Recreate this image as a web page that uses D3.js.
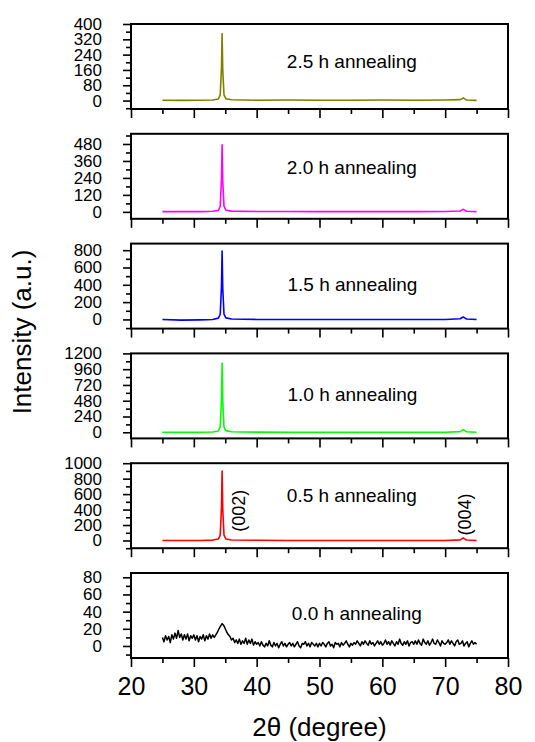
<!DOCTYPE html>
<html>
<head>
<meta charset="utf-8">
<script src="https://cdn.jsdelivr.net/npm/d3@7"></script>
<style>
  body { margin: 0; background: #fff; }
  svg { display: block; font-family: "Liberation Sans", Arial, sans-serif; }
</style>
</head>
<body>
<div id="wrapper"></div>
<script>
// 2theta axis
const xTickValues = [20, 30, 40, 50, 60, 70, 80]
const xMinorTicks = [25, 35, 45, 55, 65, 75]

// annealed films: sharp (002) peak + small (004) peak
const peakTheta = [25, 28, 31, 33, 33.9, 34.2, 34.4, 34.5, 34.6, 34.8, 35.1, 36, 40, 45, 50, 55, 60, 65, 70, 72.4, 72.7, 72.9, 73.1, 73.4, 75]
const anneal25 = [2, 1, 2, 3, 8, 30, 170, 350, 160, 30, 10, 4, 2, 3, 2, 2, 3, 2, 3, 5, 10, 14, 9, 3, 1]
const anneal20 = [2, 2, 2, 4, 10, 40, 230, 475, 220, 40, 12, 5, 3, 3, 2, 2, 2, 2, 3, 6, 14, 18, 12, 4, 2]
const anneal15 = [0, -8, -5, 0, 15, 60, 380, 790, 360, 60, 18, 5, 0, 0, 0, 0, 0, 0, 0, 8, 22, 28, 18, 5, 0]
const anneal10 = [0, 0, 0, 5, 20, 80, 500, 1050, 480, 80, 25, 8, 3, 0, 0, 0, 0, 0, 0, 10, 30, 40, 25, 8, 0]
const anneal05 = [0, 0, 0, 5, 18, 70, 430, 900, 410, 70, 20, 6, 2, 0, 0, 0, 0, 0, 0, 8, 25, 32, 20, 6, 0]

// as-deposited film, scan from 25 deg in 0.25 deg steps
const scanStart = 25
const scanStep = 0.25
const anneal00 = [
  10, 5, 12, 7, 11, 4, 13, 8, 15, 9, 18, 10, 14, 7, 13, 8, 14, 6, 12, 9,
  13, 7, 12, 5, 11, 8, 13, 6, 12, 8, 14, 9, 13, 10, 13, 16, 20, 23, 26, 24,
  20, 16, 13, 11, 7, 9, 4, 7, 3, 8, 2, 6, 3, 9, 2, 7, 3, 8, 1, 5,
  2,
  4, 0, 5, 1, -1, 3, 0, 6, 1, -1, 4, 0, 3, -2, 2, 5, 0, 3, -1, 2,
  4, 0, 3, -1, 2, 5, 0, -2, 3, 2, 5, 0, 3, -1, 4, 2, 0, 3, -1, 3,
  0, 4, 2, -1, 3, 5, 0, 2, -2, 4, 2, 3, -1, 4, 1, 3, 6, 2, -1, 3,
  1, 4, 2, 6, 3, 0, 5, 2, 6, 3, 1, 6, 2, 4, 0, 3, 6, 2, 5, 1,
  3, 7, 2, 5, 1, 6, 3, 0, 5, 2, 8, 3, 1, 5, 2, 6, 0, 4, 5, 2,
  6, 2, 7, 3, 1, 8, 4, 2, 6, 1, 4, 8, 3, 2, 7, 4, 0, 6, 3, 2,
  4, 7, 2, 6, 3, 0, 5, 7, 2, 3, 6, 0, 3, 5, -1, 3, 6, 2, 4, 2
]

// panel texts, ranges and y ticks (top to bottom)
const panelLabels = ["2.5 h annealing", "2.0 h annealing", "1.5 h annealing", "1.0 h annealing", "0.5 h annealing", "0.0 h annealing"]
const panelColors = ["#808000", "#ff00ff", "#0000ff", "#00ff00", "#ff0000", "#000000"]
const yDomains = [[-44, 400], [-49, 552], [-106, 876], [-93, 1200], [-100, 1000], [-14, 85]]
const yTicks = [
  [0, 80, 160, 240, 320, 400],
  [0, 120, 240, 360, 480],
  [0, 200, 400, 600, 800],
  [0, 240, 480, 720, 960, 1200],
  [0, 200, 400, 600, 800, 1000],
  [0, 20, 40, 60, 80]
]
const peakLabels = [{ text: "(002)", theta: 38.1, value: 386 }, { text: "(004)", theta: 74.1, value: 335 }]

const drawChart = () => {
  const dimensions = {
    width: 535,
    height: 742,
    left: 131,
    right: 508,
    firstTop: 24,
    panelStep: 109.8,
    panelHeight: 85,
  }
  const labelDy = [44, 40, 47, 48, 39, 47]
  const labelTheta = [44.8, 44.8, 44.9, 44.9, 44.8, 45.6]

  const series = [anneal25, anneal20, anneal15, anneal10, anneal05].map((ys) =>
    ys.map((y, i) => ({ theta: peakTheta[i], value: y }))
  )
  series.push(anneal00.map((y, i) => ({ theta: scanStart + i * scanStep, value: y })))

  const svg = d3
    .select("#wrapper")
    .append("svg")
    .attr("width", dimensions.width)
    .attr("height", dimensions.height)

  const xScale = d3.scaleLinear().domain([20, 80]).range([dimensions.left, dimensions.right])

  series.forEach((data, i) => {
    const top = dimensions.firstTop + i * dimensions.panelStep
    const bottom = top + dimensions.panelHeight
    const yScale = d3.scaleLinear().domain(yDomains[i]).range([bottom, top])
    const panel = svg.append("g")

    const line = d3
      .line()
      .x((d) => xScale(d.theta))
      .y((d) => yScale(d.value))

    panel
      .append("path")
      .datum(data)
      .attr("d", line)
      .attr("fill", "none")
      .attr("stroke", panelColors[i])
      .attr("stroke-width", i === 5 ? 1.5 : 1.6)
      .attr("stroke-linejoin", "round")

    panel
      .append("rect")
      .attr("x", dimensions.left)
      .attr("y", top)
      .attr("width", dimensions.right - dimensions.left)
      .attr("height", dimensions.panelHeight)
      .attr("fill", "none")
      .attr("stroke", "black")
      .attr("stroke-width", 2)

    // y axis, major + minor ticks
    const ticks = yTicks[i]
    const step = ticks[1] - ticks[0]
    const [lo, hi] = yDomains[i]
    const minor = []
    ticks.forEach((t) => {
      ;[t - step / 2, t + step / 2].forEach((m) => {
        if (m >= lo && m <= hi && !minor.includes(m) && !ticks.includes(m)) minor.push(m)
      })
    })

    const yAxis = panel
      .append("g")
      .attr("transform", `translate(${dimensions.left},0)`)
      .call(d3.axisLeft(yScale).tickValues(ticks).tickSize(8).tickPadding(21).tickFormat(d3.format("d")))
    panel
      .append("g")
      .attr("transform", `translate(${dimensions.left},0)`)
      .call(d3.axisLeft(yScale).tickValues(minor).tickSize(5).tickFormat(""))

    yAxis.selectAll("text").style("font-size", "17px")

    // x axis under each panel
    const xAxis = panel
      .append("g")
      .attr("transform", `translate(0,${bottom})`)
      .call(
        d3
          .axisBottom(xScale)
          .tickValues(xTickValues)
          .tickSize(9)
          .tickPadding(10)
          .tickFormat(i === 5 ? d3.format("d") : "")
      )
    panel
      .append("g")
      .attr("transform", `translate(0,${bottom})`)
      .call(d3.axisBottom(xScale).tickValues(xMinorTicks).tickSize(5).tickFormat(""))

    xAxis.selectAll("text").style("font-size", "25px")

    panel.selectAll(".domain").remove()
    panel.selectAll(".tick line").attr("stroke", "black").attr("stroke-width", 1.6)
    panel.selectAll(".tick text").attr("fill", "black")

    panel
      .append("text")
      .attr("x", xScale(labelTheta[i]))
      .attr("y", top + labelDy[i])
      .style("font-size", "19px")
      .text(panelLabels[i])

    if (i === 4) {
      peakLabels.forEach((p) => {
        panel
          .append("text")
          .attr("transform", `translate(${xScale(p.theta)},${yScale(p.value)}) rotate(-90)`)
          .attr("text-anchor", "middle")
          .style("font-size", "18px")
          .text(p.text)
      })
    }
  })

  // axis titles
  svg
    .append("text")
    .attr("x", (dimensions.left + dimensions.right) / 2)
    .attr("y", 736)
    .attr("text-anchor", "middle")
    .style("font-size", "26px")
    .html("2&#952; (degree)")

  svg
    .append("text")
    .attr("transform", "translate(31,332) rotate(-90)")
    .attr("text-anchor", "middle")
    .style("font-size", "26px")
    .text("Intensity (a.u.)")
}

drawChart()
</script>
</body>
</html>
